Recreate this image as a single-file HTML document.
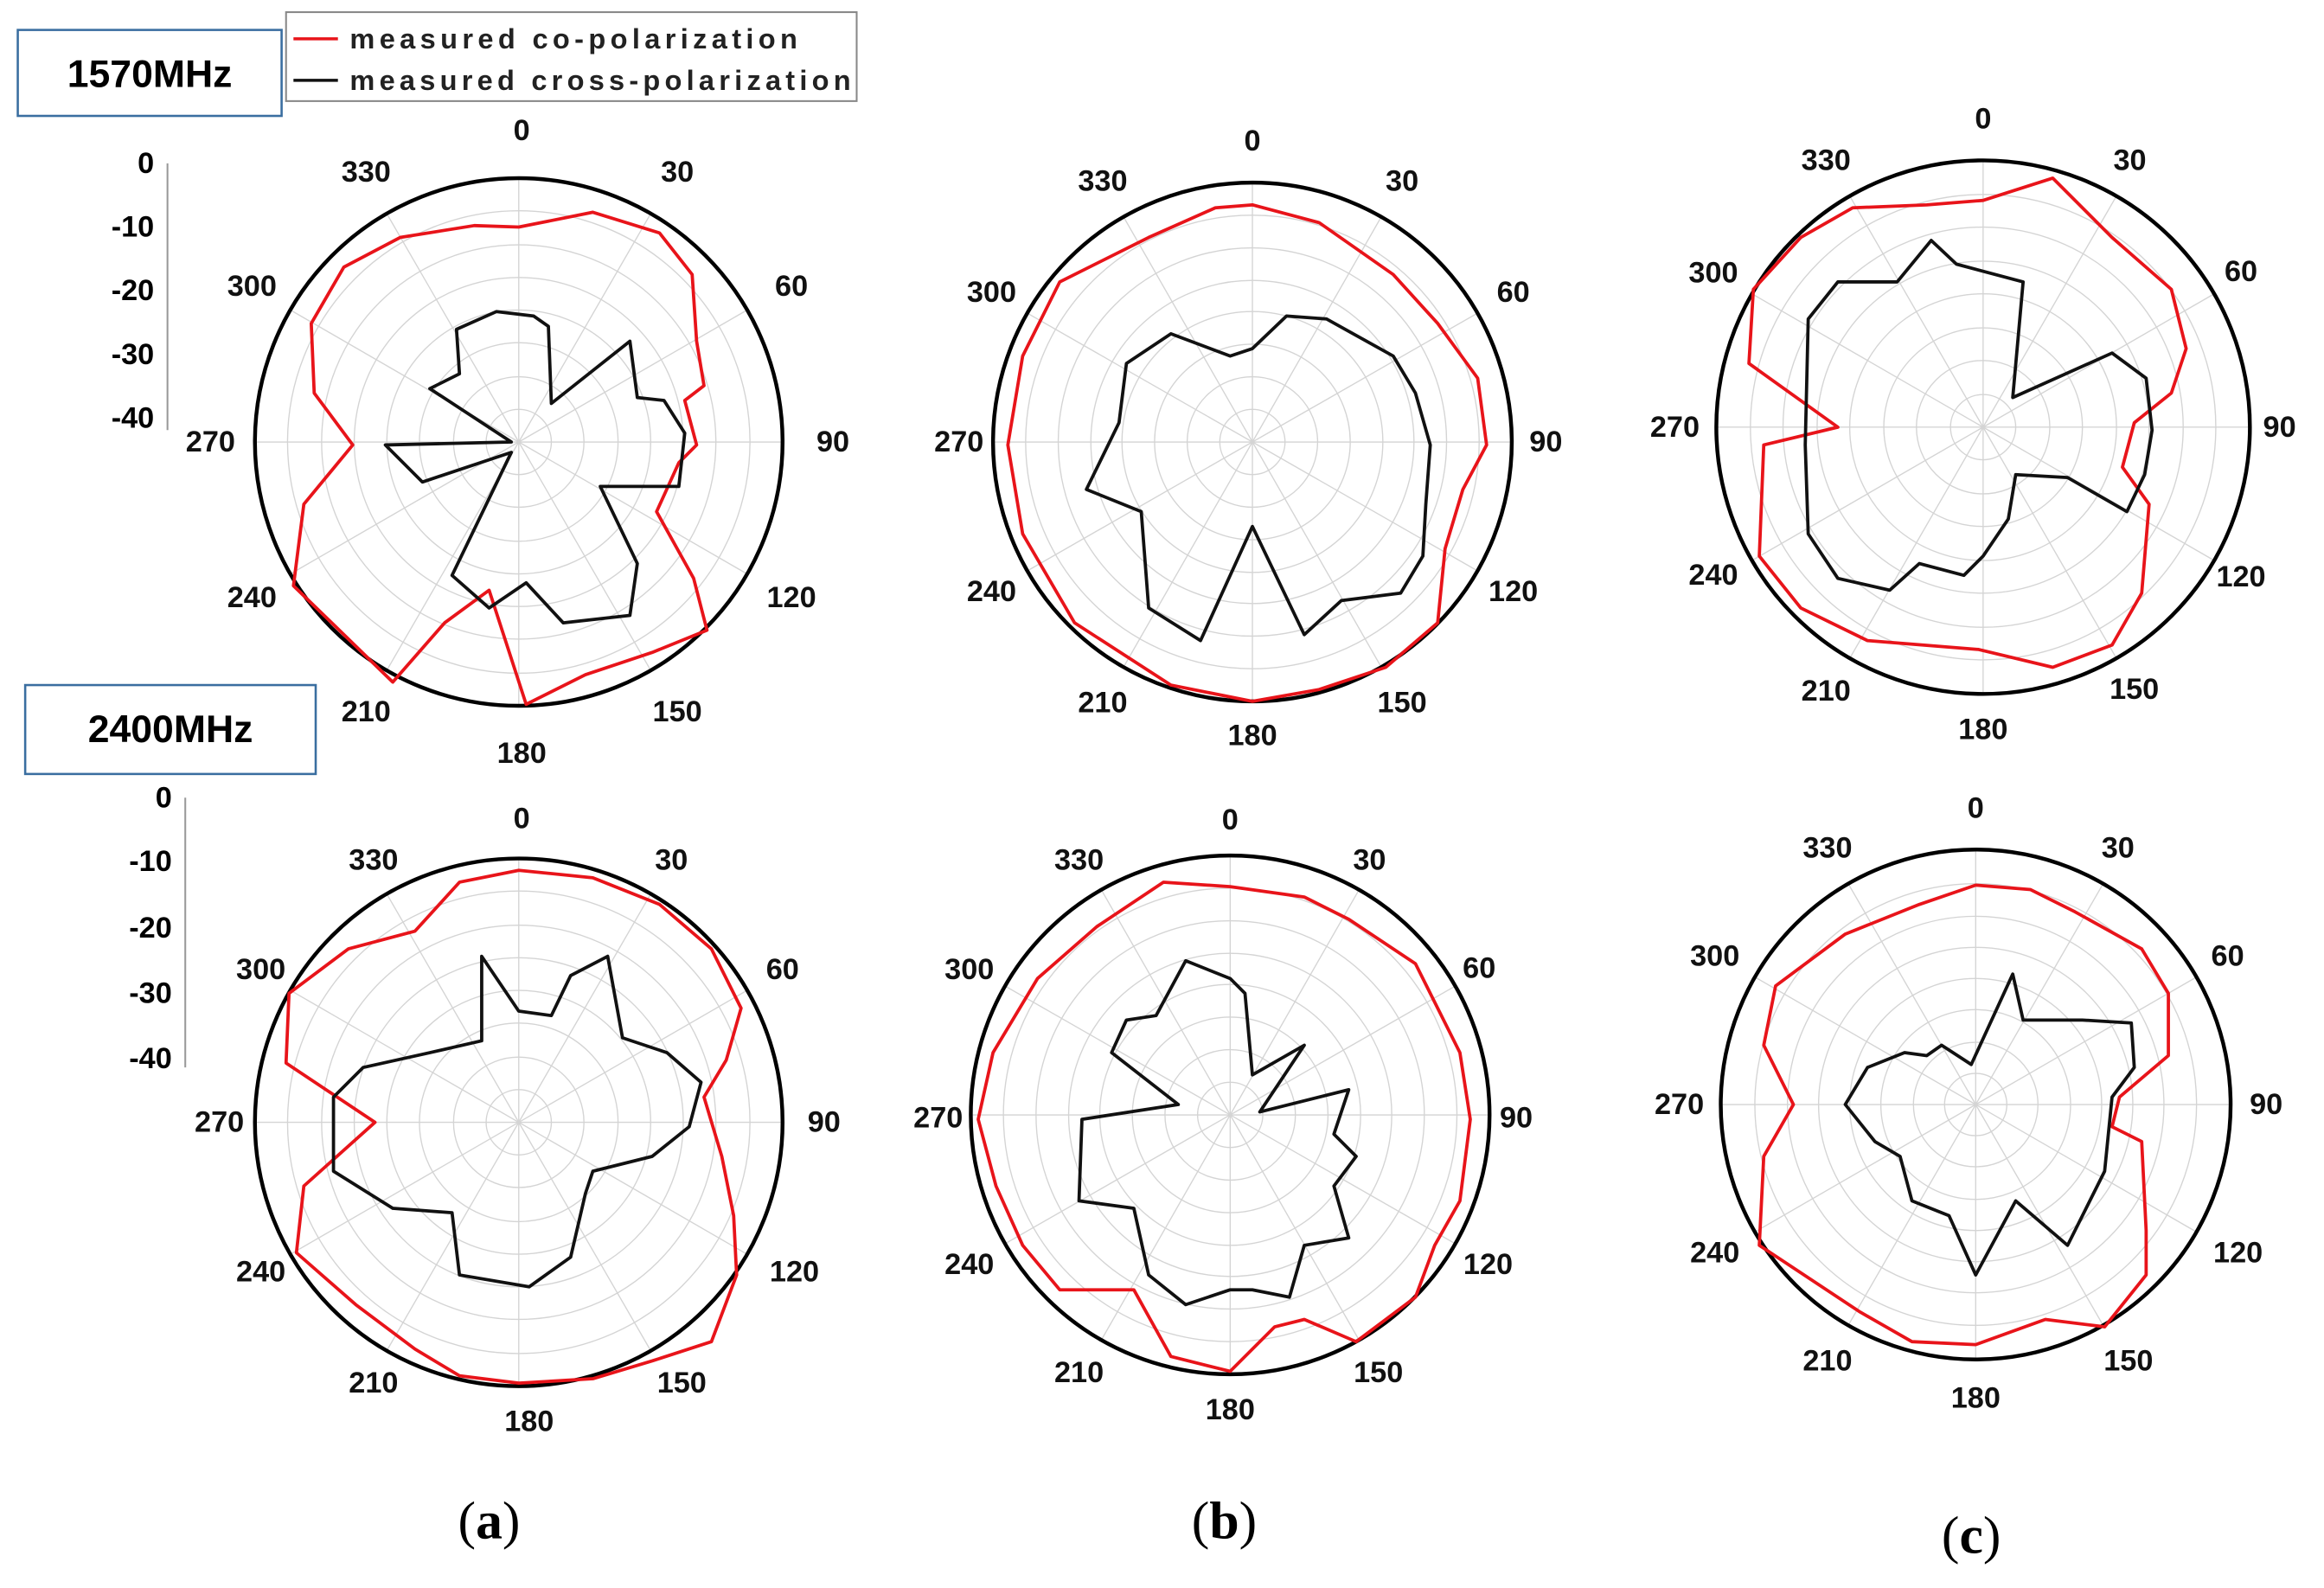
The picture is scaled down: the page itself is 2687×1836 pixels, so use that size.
<!DOCTYPE html>
<html><head><meta charset="utf-8"><style>
html,body{margin:0;padding:0;background:#fff;}
svg{display:block;}
text{font-family:"Liberation Sans",sans-serif;}
.al text{font-size:20px;font-weight:bold;text-anchor:middle;dominant-baseline:central;fill:#111;}
.g line,.g circle.in{stroke:#d4d4d4;stroke-width:0.8;fill:none;}
.g circle.out{stroke:#000;stroke-width:2.6;fill:none;}
.red{fill:none;stroke:#e8141a;stroke-width:2.2;stroke-linejoin:round;}
.blk{fill:none;stroke:#111;stroke-width:2.2;stroke-linejoin:round;}
.sc text{font-size:20px;font-weight:bold;text-anchor:end;dominant-baseline:central;}
.cap text{font-family:"Liberation Serif",serif;font-size:36px;text-anchor:middle;dominant-baseline:central;}
</style></head><body>
<svg width="2687" height="1836" viewBox="0 0 1568 1071" xmlns="http://www.w3.org/2000/svg">
<g class="g" transform="translate(350,298)">
<circle class="in" r="22"/><circle class="in" r="44"/><circle class="in" r="67"/><circle class="in" r="89"/><circle class="in" r="111"/><circle class="in" r="133"/><circle class="in" r="156"/>
<line x1="0" y1="-178" x2="0" y2="178"/><line x1="-178" y1="0" x2="178" y2="0"/><line x1="-89" y1="-154" x2="89" y2="154"/><line x1="89" y1="-154" x2="-89" y2="154"/><line x1="-154" y1="-89" x2="154" y2="89"/><line x1="154" y1="-89" x2="-154" y2="89"/>
<circle class="out" r="178"/></g>
<g class="g" transform="translate(845,298)">
<circle class="in" r="22"/><circle class="in" r="44"/><circle class="in" r="66"/><circle class="in" r="88"/><circle class="in" r="109"/><circle class="in" r="131"/><circle class="in" r="153"/>
<line x1="0" y1="-175" x2="0" y2="175"/><line x1="-175" y1="0" x2="175" y2="0"/><line x1="-87" y1="-152" x2="87" y2="152"/><line x1="87" y1="-152" x2="-87" y2="152"/><line x1="-152" y1="-87" x2="152" y2="87"/><line x1="152" y1="-87" x2="-152" y2="87"/>
<circle class="out" r="175"/></g>
<g class="g" transform="translate(1338,288)">
<circle class="in" r="22"/><circle class="in" r="45"/><circle class="in" r="67"/><circle class="in" r="90"/><circle class="in" r="112"/><circle class="in" r="135"/><circle class="in" r="157"/>
<line x1="0" y1="-180" x2="0" y2="180"/><line x1="-180" y1="0" x2="180" y2="0"/><line x1="-90" y1="-156" x2="90" y2="156"/><line x1="90" y1="-156" x2="-90" y2="156"/><line x1="-156" y1="-90" x2="156" y2="90"/><line x1="156" y1="-90" x2="-156" y2="90"/>
<circle class="out" r="180"/></g>
<g class="g" transform="translate(350,757)">
<circle class="in" r="22"/><circle class="in" r="44"/><circle class="in" r="67"/><circle class="in" r="89"/><circle class="in" r="111"/><circle class="in" r="133"/><circle class="in" r="156"/>
<line x1="0" y1="-178" x2="0" y2="178"/><line x1="-178" y1="0" x2="178" y2="0"/><line x1="-89" y1="-154" x2="89" y2="154"/><line x1="89" y1="-154" x2="-89" y2="154"/><line x1="-154" y1="-89" x2="154" y2="89"/><line x1="154" y1="-89" x2="-154" y2="89"/>
<circle class="out" r="178"/></g>
<g class="g" transform="translate(830,752)">
<circle class="in" r="22"/><circle class="in" r="44"/><circle class="in" r="66"/><circle class="in" r="88"/><circle class="in" r="109"/><circle class="in" r="131"/><circle class="in" r="153"/>
<line x1="0" y1="-175" x2="0" y2="175"/><line x1="-175" y1="0" x2="175" y2="0"/><line x1="-87" y1="-152" x2="87" y2="152"/><line x1="87" y1="-152" x2="-87" y2="152"/><line x1="-152" y1="-87" x2="152" y2="87"/><line x1="152" y1="-87" x2="-152" y2="87"/>
<circle class="out" r="175"/></g>
<g class="g" transform="translate(1333,745)">
<circle class="in" r="21"/><circle class="in" r="42"/><circle class="in" r="64"/><circle class="in" r="85"/><circle class="in" r="106"/><circle class="in" r="127"/><circle class="in" r="149"/>
<line x1="0" y1="-172" x2="0" y2="172"/><line x1="-172" y1="0" x2="172" y2="0"/><line x1="-86" y1="-149" x2="86" y2="149"/><line x1="86" y1="-149" x2="-86" y2="149"/><line x1="-149" y1="-86" x2="149" y2="86"/><line x1="149" y1="-86" x2="-149" y2="86"/>
<circle class="out" r="172"/></g>

<polygon class="red" points="350,153 400,143 445,157 467,185 470,230 475,260 462,270 470,300 458,312 443,345 468,390 477,425 440,440 395,455 355,475 330,398 300,420 265,460 198,395 205,340 238,300 212,265 210,218 232,180 270,160 320,152"/>
<polygon class="blk" points="335,210 360,213 370,220 372,272 425,230 430,268 448,270 462,292 458,328 405,328 430,380 425,415 380,420 355,393 330,410 305,388 345,305 285,325 260,300 345,298 290,262 310,252 308,222"/>
<polygon class="red" points="845,138 890,150 940,185 970,218 997,255 1003,300 987,330 975,370 970,420 935,450 890,465 845,473 790,462 725,420 690,360 680,300 690,240 715,190 775,160 820,140"/>
<polygon class="blk" points="845,235 868,213 895,215 940,240 955,265 965,300 962,340 960,375 945,400 905,405 880,428 845,355 810,432 775,410 770,345 733,330 755,285 760,245 790,225 830,240"/>
<polygon class="red" points="1338,135 1385,120 1425,160 1465,195 1475,235 1465,265 1440,285 1432,315 1450,340 1445,400 1425,435 1385,450 1335,438 1260,432 1215,410 1187,375 1190,300 1240,288 1180,245 1183,195 1215,160 1250,140 1300,138"/>
<polygon class="blk" points="1365,190 1320,178 1303,162 1280,190 1240,190 1220,215 1218,300 1220,360 1240,390 1275,398 1295,380 1325,388 1338,375 1355,350 1360,320 1395,322 1435,345 1447,320 1452,290 1448,255 1425,238 1358,268"/>
<polygon class="red" points="350,587 400,592 445,610 480,640 500,680 490,715 475,740 487,780 495,820 497,860 480,905 440,918 400,930 350,933 310,928 280,910 240,880 200,845 205,800 253,757 193,717 195,670 235,640 280,628 310,595"/>
<polygon class="blk" points="350,682 372,685 385,658 410,645 420,700 450,710 473,730 465,760 440,780 400,790 395,805 385,848 357,868 310,860 305,818 265,815 225,790 225,740 245,720 290,710 325,702 325,645"/>
<polygon class="red" points="785,595 830,598 880,605 910,620 955,650 985,710 992,755 985,810 968,840 955,875 915,905 880,890 860,895 830,925 790,915 765,870 715,870 690,840 672,800 660,755 670,710 700,660 740,625"/>
<polygon class="blk" points="800,648 830,660 840,670 845,725 880,705 850,750 910,735 900,765 915,780 900,800 910,835 880,840 870,875 845,870 830,870 800,880 775,860 765,815 728,810 730,755 795,745 750,710 760,688 780,685"/>
<polygon class="red" points="1333,597 1370,600 1400,615 1445,640 1463,670 1463,712 1430,740 1425,760 1445,770 1448,830 1448,860 1420,895 1380,890 1333,907 1290,905 1255,885 1187,840 1190,780 1210,745 1190,705 1198,665 1245,630 1295,610"/>
<polygon class="blk" points="1358,657 1365,688 1405,688 1438,690 1440,720 1425,740 1420,790 1395,840 1360,810 1333,860 1315,820 1290,810 1282,780 1265,770 1245,745 1260,720 1285,710 1300,712 1310,705 1330,718"/>

<g class="al" transform="translate(352,298)"><text x="0" y="-210">0</text><text x="105" y="-182">30</text><text x="182" y="-105">60</text><text x="210" y="0">90</text><text x="182" y="105">120</text><text x="105" y="182">150</text><text x="0" y="210">180</text><text x="-105" y="182">210</text><text x="-182" y="105">240</text><text x="-210" y="0">270</text><text x="-182" y="-105">300</text><text x="-105" y="-182">330</text></g>
<g class="al" transform="translate(845,298)"><text x="0" y="-203">0</text><text x="101" y="-176">30</text><text x="176" y="-101">60</text><text x="198" y="0">90</text><text x="176" y="101">120</text><text x="101" y="176">150</text><text x="0" y="198">180</text><text x="-101" y="176">210</text><text x="-176" y="101">240</text><text x="-198" y="0">270</text><text x="-176" y="-101">300</text><text x="-101" y="-176">330</text></g>
<g class="al" transform="translate(1338,288)"><text x="0" y="-208">0</text><text x="99" y="-180">30</text><text x="174" y="-105">60</text><text x="200" y="0">90</text><text x="174" y="101">120</text><text x="102" y="177">150</text><text x="0" y="204">180</text><text x="-106" y="178">210</text><text x="-182" y="100">240</text><text x="-208" y="0">270</text><text x="-182" y="-104">300</text><text x="-106" y="-180">330</text></g>
<g class="al" transform="translate(352,757)"><text x="0" y="-205">0</text><text x="101" y="-177">30</text><text x="176" y="-103">60</text><text x="204" y="0">90</text><text x="184" y="101">120</text><text x="108" y="176">150</text><text x="5" y="202">180</text><text x="-100" y="176">210</text><text x="-176" y="101">240</text><text x="-204" y="0">270</text><text x="-176" y="-103">300</text><text x="-100" y="-177">330</text></g>
<g class="al" transform="translate(830,752)"><text x="0" y="-199">0</text><text x="94" y="-172">30</text><text x="168" y="-99">60</text><text x="193" y="2">90</text><text x="174" y="101">120</text><text x="100" y="174">150</text><text x="0" y="199">180</text><text x="-102" y="174">210</text><text x="-176" y="101">240</text><text x="-197" y="2">270</text><text x="-176" y="-98">300</text><text x="-102" y="-172">330</text></g>
<g class="al" transform="translate(1333,745)"><text x="0" y="-200">0</text><text x="96" y="-173">30</text><text x="170" y="-100">60</text><text x="196" y="0">90</text><text x="177" y="100">120</text><text x="103" y="173">150</text><text x="0" y="198">180</text><text x="-100" y="173">210</text><text x="-176" y="100">240</text><text x="-200" y="0">270</text><text x="-176" y="-100">300</text><text x="-100" y="-173">330</text></g>

<g class="sc">
<line x1="113" y1="110" x2="113" y2="290" stroke="#999" stroke-width="1.2"/>
<text x="104" y="110">0</text><text x="104" y="153">-10</text><text x="104" y="196">-20</text><text x="104" y="239">-30</text><text x="104" y="282">-40</text>
<line x1="125" y1="538" x2="125" y2="720" stroke="#999" stroke-width="1.2"/>
<text x="116" y="538">0</text><text x="116" y="581">-10</text><text x="116" y="626">-20</text><text x="116" y="670">-30</text><text x="116" y="714">-40</text>
</g>

<rect x="193" y="8" width="385" height="60" fill="#fff" stroke="#888" stroke-width="1.2"/>
<line x1="198" y1="26" x2="228" y2="26" stroke="#e8141a" stroke-width="2"/>
<line x1="198" y1="54" x2="228" y2="54" stroke="#111" stroke-width="2"/>
<text x="236" y="26" font-size="19" font-weight="bold" dominant-baseline="central" fill="#222" textLength="302">measured co-polarization</text>
<text x="236" y="54" font-size="19" font-weight="bold" dominant-baseline="central" fill="#222" textLength="338">measured cross-polarization</text>
<rect x="12" y="20" width="178" height="58" fill="#fff" stroke="#3a6ea0" stroke-width="1.5"/>
<text x="101" y="50" font-size="26" font-weight="bold" text-anchor="middle" dominant-baseline="central">1570MHz</text>
<rect x="17" y="462" width="196" height="60" fill="#fff" stroke="#3a6ea0" stroke-width="1.5"/>
<text x="115" y="492" font-size="26" font-weight="bold" text-anchor="middle" dominant-baseline="central">2400MHz</text>

<g class="cap">
<text x="330" y="1026">(<tspan font-weight="bold">a</tspan>)</text>
<text x="826" y="1026">(<tspan font-weight="bold">b</tspan>)</text>
<text x="1330" y="1036">(<tspan font-weight="bold">c</tspan>)</text>
</g>
</svg>
</body></html>
